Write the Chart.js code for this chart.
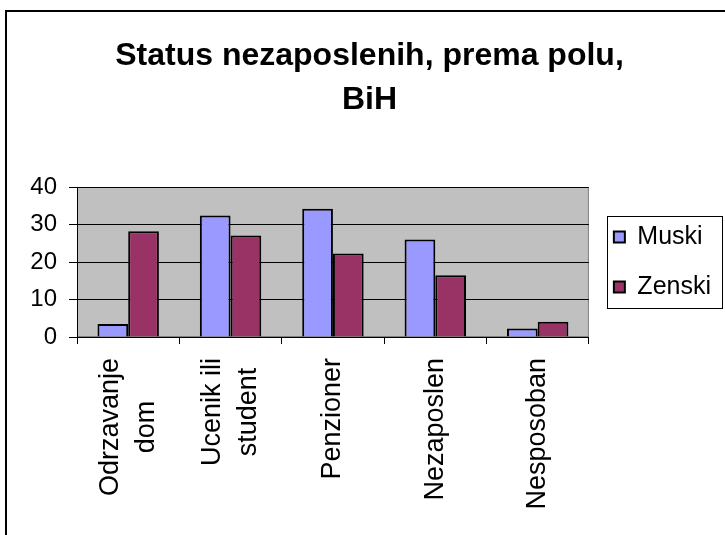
<!DOCTYPE html>
<html><head><meta charset="utf-8">
<script src="https://cdn.jsdelivr.net/npm/chart.js@4/dist/chart.umd.min.js"></script>
<style>html,body{margin:0;padding:0;background:#fff}#wrap{width:725px;height:535px}</style>
</head><body><div id="wrap"><canvas id="c" width="725" height="535"></canvas></div>
<script>
const categories = [["Odrzavanje","dom"],["Ucenik ili","student"],"Penzioner","Nezaposlen","Nesposoban"];
const seriesNames = ["Muski","Zenski"];
const muski = [3.5, 32.4, 34.2, 26.0, 2.3];
const zenski = [28.2, 27.1, 22.3, 16.5, 4.1];
const yMin = 0, yMax = 40, yStep = 10;
const titleLines = ["Status nezaposlenih, prema polu,","BiH"];

const FONT = '"Liberation Sans", Arial, Helvetica, sans-serif';
Chart.defaults.font.family = FONT;
Chart.defaults.color = '#000';

const framePlugin = {
  id: 'frame',
  beforeDraw(chart) {
    const {ctx, chartArea: a} = chart;
    ctx.save();
    ctx.fillStyle = '#fff'; ctx.fillRect(0, 0, chart.width, chart.height);
    ctx.strokeStyle = '#000'; ctx.lineWidth = 2;
    ctx.beginPath(); ctx.moveTo(6, 535); ctx.lineTo(6, 11); ctx.lineTo(725, 11); ctx.stroke();
    ctx.fillStyle = '#C0C0C0'; ctx.fillRect(a.left, a.top, a.right - a.left, a.bottom - a.top);
    ctx.strokeStyle = '#808080'; ctx.lineWidth = 1;
    ctx.strokeRect(a.left + 0.5, a.top + 0.5, a.right - a.left - 1, a.bottom - a.top - 1);
    ctx.restore();
  },
  afterDraw(chart) {
    const ctx = chart.ctx;
    ctx.save();
    // legend frame
    const hb = chart.legend.legendHitBoxes;
    if (hb && hb.length) {
      const b0 = hb[0], b1 = hb[hb.length - 1];
      const L = Math.round(b0.left - 7), T = Math.round(b0.top - 9);
      const W = 115, H = Math.round(b1.top + b1.height + 8) - T;
      ctx.strokeStyle = '#000'; ctx.lineWidth = 1;
      ctx.strokeRect(L + 0.5, T + 0.5, W, H);
    }
    // category labels (vertical, lines centred)
    const xs = chart.scales.x;
    ctx.font = '27px ' + FONT;
    ctx.fillStyle = '#000'; ctx.textAlign = 'center'; ctx.textBaseline = 'middle';
    const lineGap = 36, labelTop = 21;
    chart.data.labels.forEach((lab, i) => {
      const lines = Array.isArray(lab) ? lab : [lab];
      const cx = xs.getPixelForTick(i);
      const maxW = Math.max(...lines.map(l => ctx.measureText(l).width));
      const cy = xs.top + labelTop + maxW / 2;
      lines.forEach((ln, j) => {
        const x = cx + (j - (lines.length - 1) / 2) * lineGap;
        ctx.save(); ctx.translate(x, cy); ctx.rotate(-Math.PI / 2); ctx.fillText(ln, 0, 0); ctx.restore();
      });
    });
    ctx.restore();
  }
};

new Chart(document.getElementById('c'), {
  type: 'bar',
  data: {
    labels: categories,
    datasets: [
      {label: seriesNames[0], data: muski, backgroundColor: '#9999FF', borderColor: '#000', borderWidth: 2, categoryPercentage: 0.6, barPercentage: 1.0},
      {label: seriesNames[1], data: zenski, backgroundColor: '#993366', borderColor: '#000', borderWidth: 2, categoryPercentage: 0.6, barPercentage: 1.0}
    ]
  },
  plugins: [framePlugin],
  options: {
    responsive: false, animation: false, devicePixelRatio: 1,
    layout: {padding: {left: 18, top: 0, right: 4, bottom: 0}},
    plugins: {
      title: {display: true, text: titleLines, color: '#000', font: {size: 32, weight: 'bold', lineHeight: 1.375}, padding: {top: 34, bottom: 65}},
      legend: {position: 'right', align: 'center', fullSize: false,
        labels: {boxWidth: 11, boxHeight: 11, padding: 25, color: '#000', font: {size: 25}}},
      tooltip: {enabled: false}
    },
    scales: {
      x: {
        grid: {display: true, drawOnChartArea: false, drawTicks: true, tickLength: 7, color: '#000', offset: true},
        border: {display: true, color: '#000', width: 1},
        ticks: {display: false},
        afterFit(s) { s.height = 198; }
      },
      y: {
        min: yMin, max: yMax,
        ticks: {stepSize: yStep, font: {size: 24}, color: '#000', padding: 12},
        grid: {color: '#000', lineWidth: 1, tickLength: 8},
        border: {color: '#000', width: 1},
        afterFit(s) { s.width = 59; }
      }
    }
  }
});
</script></body></html>
